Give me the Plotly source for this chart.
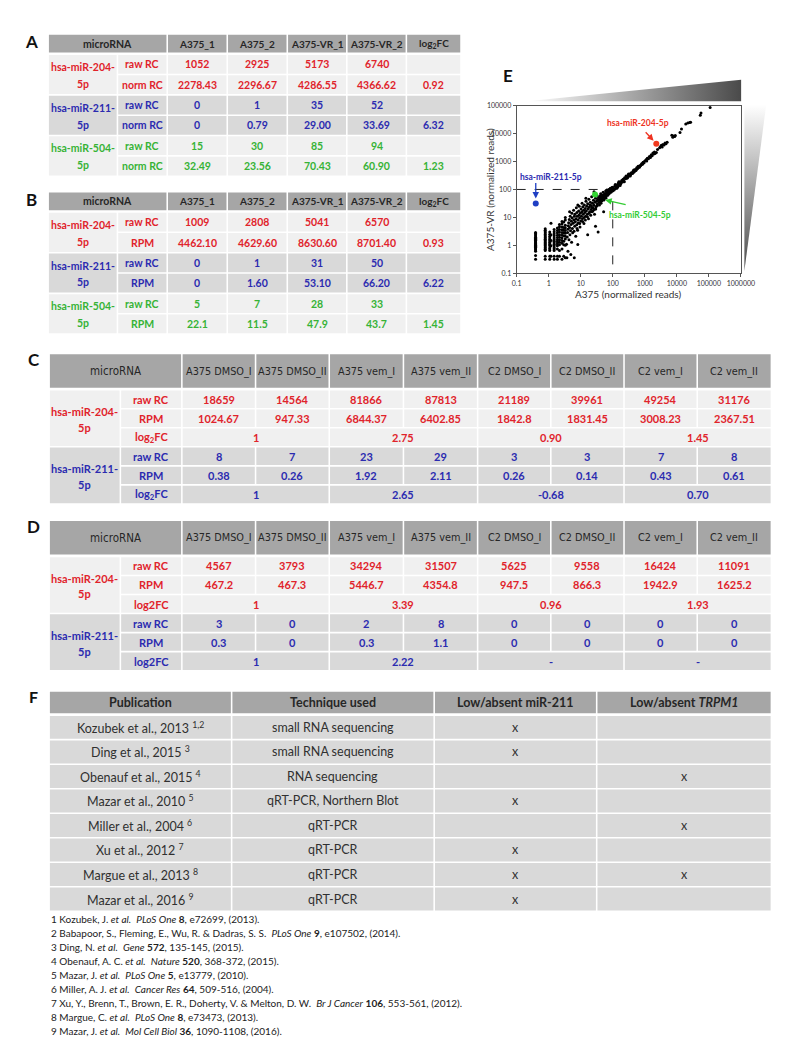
import numpy as np
import plotly.graph_objects as go

W, H = 794, 1059
FONT = "Lato"
NARROW = "Liberation Sans Narrow, DejaVu Sans Condensed, Lato"
RED, BLUE, GREEN = "#e0232b", "#2b2bb0", "#36b336"
DARK = "#262626"
HEAD_BG, LIGHT_BG, MID_BG = "#a6a6a6", "#f0f0f0", "#d9d9d9"

# ---------------- data: tables A and B ----------------
samples_ab = ["A375_1", "A375_2", "A375-VR_1", "A375-VR_2"]
mirnas = ["hsa-miR-204-5p", "hsa-miR-211-5p", "hsa-miR-504-5p"]

a_raw = [[1052, 2925, 5173, 6740], [0, 1, 35, 52], [15, 30, 85, 94]]
a_norm = [["2278.43", "2296.67", "4286.55", "4366.62"],
          ["0", "0.79", "29.00", "33.69"],
          ["32.49", "23.56", "70.43", "60.90"]]
a_fc = ["0.92", "6.32", "1.23"]

b_raw = [[1009, 2808, 5041, 6570], [0, 1, 31, 50], [5, 7, 28, 33]]
b_rpm = [["4462.10", "4629.60", "8630.60", "8701.40"],
         ["0", "1.60", "53.10", "66.20"],
         ["22.1", "11.5", "47.9", "43.7"]]
b_fc = ["0.93", "6.22", "1.45"]

# ---------------- data: tables C and D ----------------
samples_cd = ["A375 DMSO_I", "A375 DMSO_II", "A375 vem_I", "A375 vem_II",
              "C2 DMSO_I", "C2 DMSO_II", "C2 vem_I", "C2 vem_II"]
c_raw = [[18659, 14564, 81866, 87813, 21189, 39961, 49254, 31176],
         [8, 7, 23, 29, 3, 3, 7, 8]]
c_rpm = [["1024.67", "947.33", "6844.37", "6402.85", "1842.8", "1831.45", "3008.23", "2367.51"],
         ["0.38", "0.26", "1.92", "2.11", "0.26", "0.14", "0.43", "0.61"]]
c_fc = [["1", "2.75", "0.90", "1.45"], ["1", "2.65", "-0.68", "0.70"]]

d_raw = [[4567, 3793, 34294, 31507, 5625, 9558, 16424, 11091],
         [3, 0, 2, 8, 0, 0, 0, 0]]
d_rpm = [["467.2", "467.3", "5446.7", "4354.8", "947.5", "866.3", "1942.9", "1625.2"],
         ["0.3", "0", "0.3", "1.1", "0", "0", "0", "0"]]
d_fc = [["1", "3.39", "0.96", "1.93"], ["1", "2.22", "-", "-"]]

# ---------------- data: table F ----------------
f_header = ["Publication", "Technique used", "Low/absent miR-211", "Low/absent <i>TRPM1</i>"]
publications = ["Kozubek et al., 2013 <sup>1,2</sup>", "Ding et al., 2015 <sup>3</sup>",
                "Obenauf et al., 2015 <sup>4</sup>", "Mazar et al., 2010 <sup>5</sup>",
                "Miller et al., 2004 <sup>6</sup>", "Xu et al., 2012 <sup>7</sup>",
                "Margue et al., 2013 <sup>8</sup>", "Mazar et al., 2016 <sup>9</sup>"]
techniques = ["small RNA sequencing", "small RNA sequencing", "RNA sequencing",
              "qRT-PCR, Northern Blot", "qRT-PCR", "qRT-PCR", "qRT-PCR", "qRT-PCR"]
low_mir211 = ["x", "x", "", "x", "", "x", "x", "x"]
low_trpm1 = ["", "", "x", "", "x", "", "x", ""]

references = [
    "1 Kozubek, J. <i>et al.</i>&nbsp; <i>PLoS One</i> <b>8</b>, e72699, (2013).",
    "2 Babapoor, S., Fleming, E., Wu, R. &amp; Dadras, S. S.&nbsp; <i>PLoS One</i> <b>9</b>, e107502, (2014).",
    "3 Ding, N. <i>et al.</i>&nbsp; <i>Gene</i> <b>572</b>, 135-145, (2015).",
    "4 Obenauf, A. C. <i>et al.</i>&nbsp; <i>Nature</i> <b>520</b>, 368-372, (2015).",
    "5 Mazar, J. <i>et al.</i>&nbsp; <i>PLoS One</i> <b>5</b>, e13779, (2010).",
    "6 Miller, A. J. <i>et al.</i>&nbsp; <i>Cancer Res</i> <b>64</b>, 509-516, (2004).",
    "7 Xu, Y., Brenn, T., Brown, E. R., Doherty, V. &amp; Melton, D. W.&nbsp; <i>Br J Cancer</i> <b>106</b>, 553-561, (2012).",
    "8 Margue, C. <i>et al.</i>&nbsp; <i>PLoS One</i> <b>8</b>, e73473, (2013).",
    "9 Mazar, J. <i>et al.</i>&nbsp; <i>Mol Cell Biol</i> <b>36</b>, 1090-1108, (2016).",
]

# ---------------- data: scatter E (normalized reads) ----------------
# low-count columns: shared A375 value, list of A375-VR values
low_x = [0.39, 0.78, 1.08, 1.18, 1.48, 1.87, 2.17, 2.6, 2.95, 3.3]
low_y = [
    [0.32, 0.43, 0.62, 0.68, 0.74, 0.8, 0.86, 0.93, 1.0, 1.08, 1.16, 1.24, 1.33, 1.43, 1.54, 1.66, 1.8, 1.96, 2.15, 2.4, 2.65, 2.9],
    [0.32, 0.41, 0.65, 0.72, 0.8, 0.88, 0.97, 1.06, 1.15, 1.25, 1.36, 1.5, 1.65, 1.82, 2.0, 2.2, 2.45, 2.75, 3.1, 3.5, 3.9],
    [0.32, 0.41, 0.65, 0.74, 0.83, 0.97, 1.06, 1.15, 1.3, 1.45, 1.62, 1.85, 2.1, 2.5, 3.0],
    [0.41, 0.97, 1.5, 2.4, 6.2],
    [0.32, 0.41, 0.65, 0.74, 0.83, 0.97, 1.1, 1.24, 1.4, 1.6, 1.85, 2.2, 2.6, 3.1, 3.7],
    [0.32, 0.41, 0.74, 0.97, 1.15, 1.35, 1.6, 1.9, 2.3, 2.8, 3.4, 4.2],
    [0.41, 0.65, 1.06, 1.3, 1.6, 1.95, 2.4, 3.0, 3.7, 4.6, 5.6],
    [0.32, 0.74, 1.2, 1.5, 1.85, 2.3, 2.9, 3.6, 4.5, 5.8, 7.2],
    [0.41, 1.06, 1.4, 2.2, 2.8, 3.5, 4.4, 6.8],
    [0.36, 1.0, 1.7, 2.1, 2.7, 3.4, 4.3, 5.2, 8.0, 10],
]
cloud = [
    (3.6, 1.1), (3.7, 0.36), (3.8, 2.0), (3.9, 2.9), (4.0, 3.8), (4.0, 0.62), (4.1, 5.0), (4.2, 6.5),
    (4.3, 1.6), (4.4, 8.5), (4.5, 4.4), (4.5, 16), (4.6, 2.4), (4.7, 11), (4.8, 3.3), (4.9, 0.47),
    (5.0, 5.6), (5.1, 7.3), (5.2, 1.3), (5.3, 14), (5.4, 9.5), (5.5, 4.0), (5.6, 2.8), (5.8, 6.2),
    (6.0, 18), (6.1, 8.0), (6.2, 3.2), (6.3, 0.36), (6.3, 11), (6.5, 4.8), (6.6, 13), (6.8, 7.0),
    (7.0, 2.1), (7.1, 9.0), (7.3, 22), (7.5, 5.5), (7.6, 15), (7.7, 4.0), (7.8, 11), (8.0, 3.5),
    (8.1, 28), (8.1, 1.07), (8.2, 8.0), (8.4, 6.3), (8.6, 17), (8.8, 12), (9.0, 25), (9.2, 9.5),
    (9.3, 6.0), (9.5, 4.5), (9.7, 14), (10, 7.5), (10.2, 20), (10.5, 11), (10.8, 16), (11, 32),
    (11.3, 9), (11.5, 7.2), (11.6, 24), (12, 13), (12.3, 18), (12.6, 6.0), (12.8, 10), (13, 28),
    (13.4, 15), (13.8, 21), (14, 8.0), (14.2, 11), (14.5, 48), (14.6, 38), (15, 17), (15.5, 25),
    (16, 13), (16.2, 10.5), (16.5, 2.4), (16.5, 31), (17, 20), (17.5, 9), (18, 45), (18.2, 14),
    (18.5, 23), (19, 16), (19.5, 28), (20, 35), (20.5, 12), (21, 19), (21.5, 26), (22, 55),
    (22.5, 16), (23, 22), (23.5, 32), (24, 17), (24.5, 22), (25, 41), (26, 27), (26, 83),
    (26.5, 19), (27, 13), (28, 35), (29, 4.8), (29, 48), (29.5, 20), (30, 24), (31, 38),
    (32, 62), (32.5, 26), (33, 30), (34, 44), (35, 3.0), (36, 52), (37, 34), (38, 40),
    (38.5, 28), (40, 58), (41, 47), (42, 70), (42, 45), (43, 32), (44, 38), (44, 55),
    (45, 52), (46, 40), (47, 62), (48, 45), (48, 50), (50, 80), (52, 16), (52, 55),
    (52, 62), (53, 42), (54, 66), (55, 58), (56, 48), (57, 58), (58, 72), (58, 65),
    (60, 88), (62, 50), (62, 70), (63, 60), (65, 95), (66, 68), (68, 75), (70, 62),
    (70, 78), (72, 85), (74, 70), (75, 100), (78, 72), (78, 88), (80, 90), (82, 85),
    (84, 110), (86, 95), (88, 80), (90, 88), (92, 98), (95, 105), (96, 120), (100, 90),
]
diagonal = [
    (105, 110), (110, 95), (115, 130), (120, 105), (120, 150), (125, 140), (130, 120), (135, 110),
    (140, 150), (145, 125), (150, 170), (155, 190), (160, 145), (165, 185), (170, 140), (175, 160),
    (180, 165), (190, 210), (200, 185), (210, 230), (220, 200), (230, 190), (235, 260), (250, 240),
    (260, 300), (265, 280), (280, 250), (290, 270), (300, 320), (310, 360), (320, 300), (340, 360),
    (350, 300), (360, 330), (380, 400), (400, 370), (420, 380), (430, 450), (450, 500), (460, 420),
    (480, 450), (500, 520), (530, 480), (550, 520), (560, 600), (600, 560), (620, 680), (650, 640),
    (680, 620), (700, 700), (750, 720), (780, 760), (800, 830), (850, 800), (880, 920), (900, 950),
    (950, 900), (1000, 1050), (1100, 1150), (1150, 1050), (1200, 1300), (1300, 1250), (1400, 1500),
    (1500, 1400), (1600, 1750), (1700, 1600), (1800, 2000), (1900, 1850), (2000, 2200), (2100, 1950),
    (2300, 2100), (2500, 2700), (2900, 3100), (3100, 3400), (3300, 3800), (3500, 3300), (3700, 4100),
    (4000, 3900), (4300, 4600), (4600, 4300), (5000, 4900), (7000, 8700), (7500, 7400), (8000, 8200),
    (8600, 7800), (9000, 8600), (12600, 11000), (14000, 14500), (19000, 22000), (22000, 24000),
    (25000, 25000), (27000, 25500), (54000, 45000), (57000, 54000), (110000, 85000),
]
x_ticks = [0.1, 1, 10, 100, 1000, 10000, 100000, 1000000]
x_ticktext = ["0.1", "1", "10", "100", "1000", "10000", "100000", "1000000"]
y_ticks = x_ticks[:-1]
y_ticktext = x_ticktext[:-1]

# ---------------- helpers (pixel coordinates on an overlay axis) ----------------
shapes, annotations = [], []


def rect(x0, y0, x1, y1, fill):
    shapes.append(dict(type="rect", xref="x2", yref="y2", x0=x0 + 0.8, y0=y0 + 0.8,
                       x1=x1 - 0.8, y1=y1 - 0.8, fillcolor=fill, line=dict(width=0)))


def txt(x, y, s, color=DARK, size=11, bold=False, xanchor="center", angle=0, family=FONT):
    annotations.append(dict(xref="x2", yref="y2", x=x, y=y, text=f"<b>{s}</b>" if bold else s,
                            showarrow=False, xanchor=xanchor, yanchor="middle", textangle=angle,
                            font=dict(family=family, size=size, color=color)))


def table_ab(top, panel, raw, norm, fc, norm_label):
    cols = [36, 107, 158, 219.5, 281, 342, 403, 459]
    hh, rh = 19.5, 20.5
    txt(19, top + 8, panel, "#111", 17, True)
    rect(cols[0], top, cols[2], top + hh, HEAD_BG)
    txt((cols[0] + cols[2]) / 2, top + hh / 2, "microRNA", DARK, 10.5, True)
    for j, s in enumerate(samples_ab + ["log<sub>2</sub>FC"]):
        rect(cols[2 + j], top, cols[3 + j], top + hh, HEAD_BG)
        txt((cols[2 + j] + cols[3 + j]) / 2, top + hh / 2, s, DARK, 10, True)
    for g, name in enumerate(mirnas):
        y0 = top + hh + 1 + g * 2 * rh
        bg = MID_BG if g == 1 else LIGHT_BG
        col = [RED, BLUE, GREEN][g]
        rect(cols[0], y0, cols[1], y0 + 2 * rh, bg)
        txt((cols[0] + cols[1]) / 2, y0 + rh - 7.5, name[:-2], col, 10.5, True)
        txt((cols[0] + cols[1]) / 2, y0 + rh + 9.5, name[-2:], col, 10.5, True)
        for r, (lab, vals) in enumerate([("raw RC", raw[g]), (norm_label, norm[g])]):
            ry = y0 + r * rh
            rect(cols[1], ry, cols[2], ry + rh, bg)
            txt((cols[1] + cols[2]) / 2, ry + rh / 2, lab, col, 10.5, True)
            for j, v in enumerate(vals):
                rect(cols[2 + j], ry, cols[3 + j], ry + rh, bg)
                txt((cols[2 + j] + cols[3 + j]) / 2, ry + rh / 2, str(v), col, 10.5, True)
            rect(cols[6], ry, cols[7], ry + rh, bg)
            if r == 1:
                txt((cols[6] + cols[7]) / 2, ry + rh / 2, fc[g], col, 10.5, True)


def table_cd(top, panel, raw, rpm, fc, fc_label):
    cols = [37, 110, 173, 248.5, 324, 400, 476, 551, 626, 701, 777]
    hh, rh = 35.5, 19.2
    txt(21, top + 6, panel, "#111", 17, True)
    rect(cols[0], top, cols[2], top + hh, HEAD_BG)
    txt((cols[0] + cols[2]) / 2, top + hh / 2, "microRNA", DARK, 11.5, family=NARROW)
    for j, s in enumerate(samples_cd):
        rect(cols[2 + j], top, cols[3 + j], top + hh, HEAD_BG)
        txt((cols[2 + j] + cols[3 + j]) / 2, top + hh / 2, s, DARK, 10.8, family=NARROW)
    for g, name in enumerate(mirnas[:2]):
        y0 = top + hh + 1 + g * 3 * rh
        bg = MID_BG if g == 1 else LIGHT_BG
        col = [RED, BLUE][g]
        rect(cols[0], y0, cols[1], y0 + 3 * rh, bg)
        txt((cols[0] + cols[1]) / 2, y0 + 1.5 * rh - 7, name[:-2], col, 11, True)
        txt((cols[0] + cols[1]) / 2, y0 + 1.5 * rh + 9, name[-2:], col, 11, True)
        for r, (lab, vals) in enumerate([("raw RC", raw[g]), ("RPM", rpm[g])]):
            ry = y0 + r * rh
            rect(cols[1], ry, cols[2], ry + rh, bg)
            txt((cols[1] + cols[2]) / 2, ry + rh / 2, lab, col, 11, True)
            for j, v in enumerate(vals):
                rect(cols[2 + j], ry, cols[3 + j], ry + rh, bg)
                txt((cols[2 + j] + cols[3 + j]) / 2, ry + rh / 2, str(v), col, 11, True)
        ry = y0 + 2 * rh
        rect(cols[1], ry, cols[2], ry + rh, bg)
        txt((cols[1] + cols[2]) / 2, ry + rh / 2, fc_label, col, 11, True)
        for k, v in enumerate(fc[g]):
            x0, x1 = cols[2 + 2 * k], cols[4 + 2 * k]
            rect(x0, ry, x1, ry + rh, bg)
            txt((x0 + x1) / 2, ry + rh / 2, v, col, 11, True)


table_ab(21, "A", a_raw, a_norm, a_fc, "norm RC")
table_ab(180, "B", b_raw, b_rpm, b_fc, "RPM")
table_cd(343, "C", c_raw, c_rpm, c_fc, "log<sub>2</sub>FC")
table_cd(511, "D", d_raw, d_rpm, d_fc, "log2FC")

# table F
f_cols = [37, 224, 431.5, 598, 777]
f_top, f_hh, f_rh = 683, 23.5, 24.7
txt(21, f_top + 6, "F", "#111", 16, True)
for j, s in enumerate(f_header):
    rect(f_cols[j], f_top, f_cols[j + 1], f_top + f_hh, HEAD_BG)
    txt((f_cols[j] + f_cols[j + 1]) / 2, f_top + f_hh / 2, s, DARK, 12.5, True)
for i, row in enumerate(zip(publications, techniques, low_mir211, low_trpm1)):
    ry = f_top + f_hh + 1 + i * f_rh
    for j, s in enumerate(row):
        rect(f_cols[j], ry, f_cols[j + 1], ry + f_rh, MID_BG)
        if s:
            txt((f_cols[j] + f_cols[j + 1]) / 2, ry + f_rh / 2, s, "#303030", 12.5)

for i, s in enumerate(references):
    txt(37, 913 + i * 14.1, s, "#222", 10, False, "left")

# ---------------- panel E ----------------
fig = go.Figure()

pts_x = [x for x, ys in zip(low_x, low_y) for _ in ys] + [p[0] for p in cloud + diagonal]
pts_y = [y for ys in low_y for y in ys] + [p[1] for p in cloud + diagonal]

a_num = np.array(a_norm, dtype=float)
hl_x = a_num[:, :2].mean(axis=1)
hl_y = a_num[:, 2:].mean(axis=1)
hl_col = ["#f03a1e", "#1f3fc4", "#33d633"]

fig.add_trace(go.Scatter(x=[0.1, 100, 100], y=[100, 100, 0.1], mode="lines",
                         line=dict(color="#222", width=1, dash="dash"), hoverinfo="skip"))
fig.add_trace(go.Scatter(x=pts_x, y=pts_y, mode="markers",
                         marker=dict(color="black", size=3), hoverinfo="skip"))
fig.add_trace(go.Scatter(x=hl_x, y=hl_y, mode="markers",
                         marker=dict(color=hl_col, size=6), hoverinfo="skip"))

# gradient wedges around the scatter
fig.add_trace(go.Scatter(x=[526.7, 746, 746, 526.7], y=[89, 67.3, 89, 89], xaxis="x2", yaxis="y2",
                         mode="lines", line=dict(width=0), fill="toself", hoverinfo="skip",
                         fillgradient=dict(type="horizontal",
                                           colorscale=[[0, "#ffffff"], [1, "#4a4a4a"]])))
fig.add_trace(go.Scatter(x=[749.3, 771.7, 749.3, 749.3], y=[92.3, 92.3, 260, 92.3], xaxis="x2", yaxis="y2",
                         mode="lines", line=dict(width=0), fill="toself", hoverinfo="skip",
                         fillgradient=dict(type="vertical",
                                           colorscale=[[0, "#4a4a4a"], [1, "#ffffff"]])))

txt(506.7, 63.3, "E", "#111", 17, True)
txt(630, 283, "A375 (normalized reads)", "#333", 10)
txt(488, 178, "A375-VR (normalized reads)", "#333", 10, angle=-90)
txt(550.7, 165, "hsa-miR-211-5p", BLUE, 8.5, True)
txt(640.7, 110.7, "hsa-miR-204-5p", "#ee3322", 8.5, True)
txt(642.7, 203.3, "hsa-miR-504-5p", "#33cc33", 8.5, True)

arrows = [(hl_x[1], hl_y[1], 0, -22, 5, "#1f3fc4"),
          (hl_x[0], hl_y[0], -12, -13, 4, "#ee3322"),
          (58, 42, 22, 5, 0, "#33cc33")]
for ax_, ay_, dx, dy, so, c in arrows:
    annotations.append(dict(xref="x", yref="y", x=np.log10(ax_), y=np.log10(ay_), ax=dx, ay=dy,
                            text="", showarrow=True, arrowhead=2, arrowsize=1, arrowwidth=1.3,
                            arrowcolor=c, standoff=so))

axis_common = dict(type="log", showgrid=False, zeroline=False, showline=True, linecolor="#555",
                   linewidth=1, mirror=True, ticks="outside", ticklen=3, tickcolor="#555",
                   tickfont=dict(family=FONT, size=7, color="#333"))

fig.update_layout(
    width=W, height=H, margin=dict(l=0, r=0, t=0, b=0),
    paper_bgcolor="white", plot_bgcolor="rgba(0,0,0,0)", showlegend=False,
    xaxis=dict(domain=[516 / W, 745.7 / W], range=[-1, 6], anchor="y",
               tickvals=x_ticks, ticktext=x_ticktext, **axis_common),
    yaxis=dict(domain=[1 - 262.3 / H, 1 - 93.3 / H], range=[-1, 5], anchor="x",
               tickvals=y_ticks, ticktext=y_ticktext, **axis_common),
    xaxis2=dict(domain=[0, 1], range=[0, W], anchor="y2", visible=False),
    yaxis2=dict(domain=[0, 1], range=[H, 0], anchor="x2", visible=False),
    shapes=shapes, annotations=annotations,
)

fig.write_html("out.html")
